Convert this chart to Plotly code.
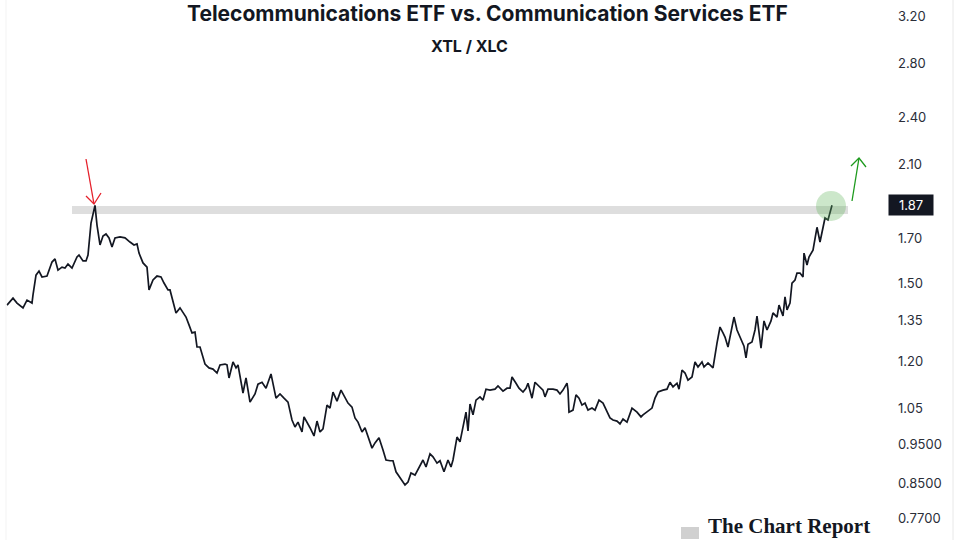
import plotly.graph_objects as go

# ---- data: XTL / XLC ratio (trading-day index, ratio value) ----
day = [0, 18, 30, 48, 60, 75, 78, 87, 96, 105, 120, 135, 144, 153, 165, 174, 183, 195, 210, 216,
       228, 237, 243, 252, 264, 270, 279, 288, 297, 306, 315, 324, 339, 354, 369, 381, 390, 396, 408, 420,
       426, 438, 450, 462, 471, 483, 489, 498, 507, 519, 528, 537, 546, 555, 564, 570, 579, 588, 594, 606,
       618, 630, 639, 654, 660, 666, 678, 687, 693, 708, 717, 729, 744, 753, 765, 777, 792, 807, 819, 831,
       843, 855, 864, 873, 885, 891, 900, 909, 921, 930, 939, 948, 960, 969, 978, 990, 1002, 1014, 1023, 1035,
       1044, 1053, 1065, 1074, 1083, 1095, 1104, 1116, 1128, 1137, 1149, 1158, 1167, 1179, 1194, 1203, 1212, 1224, 1233, 1248,
       1257, 1269, 1278, 1290, 1299, 1311, 1323, 1332, 1338, 1344, 1350, 1359, 1368, 1377, 1383, 1389, 1398, 1407, 1419, 1428,
       1437, 1449, 1464, 1473, 1488, 1500, 1509, 1515, 1527, 1536, 1548, 1557, 1563, 1575, 1584, 1596, 1608, 1614, 1623, 1638,
       1650, 1659, 1668, 1680, 1683, 1686, 1698, 1707, 1716, 1725, 1734, 1743, 1755, 1764, 1776, 1788, 1797, 1809, 1818, 1830,
       1839, 1848, 1860, 1875, 1890, 1902, 1908, 1920, 1935, 1944, 1953, 1968, 1980, 1989, 1998, 2010, 2016, 2025, 2034, 2043,
       2055, 2064, 2073, 2085, 2091, 2103, 2118, 2130, 2139, 2148, 2154, 2163, 2172, 2181, 2190, 2202, 2211, 2217, 2223, 2235,
       2244, 2250, 2262, 2271, 2280, 2292, 2298, 2310, 2316, 2328, 2334, 2340, 2349, 2355, 2364, 2370, 2379, 2388, 2391, 2400,
       2406, 2418, 2424, 2430, 2439, 2448, 2454, 2463, 2469, 2475]
ratio = [1.409, 1.437, 1.417, 1.398, 1.429, 1.417, 1.450, 1.534, 1.552, 1.526, 1.530, 1.592, 1.606, 1.556, 1.569, 1.565, 1.583, 1.565, 1.615, 1.624,
         1.597, 1.597, 1.624, 1.778, 1.870, 1.768, 1.671, 1.714, 1.724, 1.705, 1.661, 1.705, 1.710, 1.705, 1.685, 1.671, 1.676, 1.633, 1.588, 1.569,
         1.471, 1.513, 1.530, 1.526, 1.500, 1.471, 1.471, 1.421, 1.378, 1.398, 1.378, 1.362, 1.332, 1.302, 1.305, 1.251, 1.251, 1.213, 1.192, 1.179,
         1.175, 1.162, 1.189, 1.192, 1.189, 1.146, 1.199, 1.179, 1.189, 1.098, 1.146, 1.070, 1.095, 1.126, 1.132, 1.113, 1.159, 1.082, 1.095, 1.082,
         1.070, 1.017, 0.997, 1.011, 0.983, 1.026, 1.011, 0.995, 0.972, 1.014, 0.983, 0.992, 1.061, 1.052, 1.101, 1.073, 1.107, 1.086, 1.067, 1.055,
         1.023, 1.011, 0.983, 0.995, 0.969, 0.939, 0.953, 0.967, 0.934, 0.908, 0.906, 0.906, 0.878, 0.863, 0.846, 0.853, 0.875, 0.870, 0.883, 0.908,
         0.890, 0.924, 0.916, 0.900, 0.906, 0.878, 0.908, 0.890, 0.908, 0.942, 0.969, 0.956, 0.997, 1.040, 0.986, 1.064, 1.032, 1.076, 1.086, 1.076,
         1.110, 1.107, 1.110, 1.120, 1.104, 1.113, 1.113, 1.149, 1.129, 1.113, 1.101, 1.113, 1.129, 1.082, 1.132, 1.120, 1.107, 1.086, 1.110, 1.110,
         1.107, 1.095, 1.107, 1.129, 1.107, 1.040, 1.046, 1.092, 1.082, 1.061, 1.067, 1.046, 1.052, 1.046, 1.076, 1.067, 1.046, 1.023, 1.017, 1.014,
         1.006, 1.020, 1.011, 1.052, 1.040, 1.026, 1.032, 1.040, 1.052, 1.082, 1.101, 1.107, 1.110, 1.132, 1.117, 1.129, 1.110, 1.172, 1.162, 1.139,
         1.149, 1.199, 1.182, 1.199, 1.182, 1.196, 1.179, 1.265, 1.324, 1.302, 1.287, 1.251, 1.313, 1.362, 1.313, 1.276, 1.254, 1.213, 1.261, 1.269,
         1.313, 1.366, 1.247, 1.347, 1.313, 1.347, 1.378, 1.362, 1.409, 1.366, 1.442, 1.390, 1.417, 1.500, 1.513, 1.543, 1.543, 1.526, 1.633, 1.579,
         1.615, 1.647, 1.710, 1.757, 1.685, 1.763, 1.804, 1.794, 1.831, 1.870]

tick_vals = [0.77, 0.85, 0.95, 1.05, 1.20, 1.35, 1.50, 1.70, 2.10, 2.40, 2.80, 3.20]
tick_text = ["0.7700", "0.8500", "0.9500", "1.05", "1.20", "1.35", "1.50", "1.70", "2.10", "2.40", "2.80", "3.20"]
last_label = "1.87"
title_text = "Telecommunications ETF vs. Communication Services ETF"
subtitle_text = "XTL / XLC"
watermark_text = "The Chart Report"

# ---- layout helpers (pixel -> axis/paper) ----
W, H = 960, 540
L, R = 5, 893


def dx(px):
    return (px - 7) * 3


def py(p):
    return 1 - p / H


def pxp(px):
    return (px - L) / (R - L)


LINE = "#131722"

fig = go.Figure()
fig.add_trace(go.Scatter(x=day, y=ratio, mode="lines",
                         line=dict(color=LINE, width=1.7), hoverinfo="skip", showlegend=False))

shapes = [
    # resistance band
    dict(type="rect", xref="x", yref="paper", x0=dx(72), x1=dx(848), y0=py(214), y1=py(206),
         fillcolor="#dedede", line=dict(width=0), layer="below"),
    # green circle at the last price
    dict(type="circle", xref="x", yref="paper", x0=dx(816), x1=dx(846), y0=py(221), y1=py(191),
         fillcolor="rgba(96,180,90,0.32)", line=dict(width=0)),
    # red arrow
    dict(type="line", xref="x", yref="paper", x0=dx(86), y0=py(159), x1=dx(94), y1=py(204),
         line=dict(color="#e5202b", width=1.3)),
    dict(type="path", xref="x", yref="paper",
         path=f"M {dx(86)},{py(196)} L {dx(94)},{py(204)} L {dx(101)},{py(193)}",
         line=dict(color="#e5202b", width=1.3)),
    # green arrow
    dict(type="line", xref="x", yref="paper", x0=dx(852), y0=py(201), x1=dx(859), y1=py(158),
         line=dict(color="#1d9a1d", width=1.3)),
    dict(type="path", xref="x", yref="paper",
         path=f"M {dx(851)},{py(166)} L {dx(859)},{py(158)} L {dx(866)},{py(167)}",
         line=dict(color="#1d9a1d", width=1.3)),
    # panel borders
    dict(type="line", xref="paper", yref="paper", x0=pxp(953), x1=pxp(953), y0=0, y1=1,
         line=dict(color="#e8e8e8", width=1)),
    dict(type="line", xref="paper", yref="paper", x0=pxp(6), x1=pxp(6), y0=0, y1=1,
         line=dict(color="#f3f3f3", width=1)),
    # watermark icon
    dict(type="rect", xref="paper", yref="paper", x0=pxp(681), x1=pxp(699), y0=py(539), y1=py(527),
         fillcolor="#d0d0d0", line=dict(width=0)),
]

annotations = [
    dict(text=f"<b>{title_text}</b>", x=pxp(487), y=py(14), xref="paper", yref="paper",
         showarrow=False, font=dict(family="Inter", size=21, color=LINE), xanchor="center", yanchor="middle"),
    dict(text=f"<b>{subtitle_text}</b>", x=pxp(469), y=py(46), xref="paper", yref="paper",
         showarrow=False, font=dict(family="Inter", size=16, color=LINE), xanchor="center", yanchor="middle"),
    dict(text=last_label, x=pxp(911), y=py(205), xref="paper", yref="paper", showarrow=False,
         font=dict(family="Inter", size=13, color="white"), bgcolor=LINE, borderpad=2,
         width=40, height=16, xanchor="center", yanchor="middle"),
    dict(text=f"<b>{watermark_text}</b>", x=pxp(706), y=py(540), xref="paper", yref="paper",
         showarrow=False, font=dict(family="Liberation Serif", size=21, color=LINE),
         xanchor="left", yanchor="bottom"),
]

fig.update_layout(
    width=W, height=H,
    margin=dict(l=L, r=W - R, t=0, b=0),
    paper_bgcolor="white", plot_bgcolor="white",
    shapes=shapes, annotations=annotations,
    xaxis=dict(range=[dx(L), dx(R)], visible=False, showgrid=False, zeroline=False),
    yaxis=dict(type="log", side="right", range=[-0.1405, 0.5248],
               tickvals=tick_vals, ticktext=tick_text, ticks="",
               showgrid=False, zeroline=False, showline=False,
               tickfont=dict(family="Inter", size=13, color="#2a2e39"),
               ticklabelstandoff=4),
)

fig.write_html("out.html", config={"displayModeBar": False, "staticPlot": True},
               post_script="document.body.style.margin='0';document.body.style.overflow='hidden';")
